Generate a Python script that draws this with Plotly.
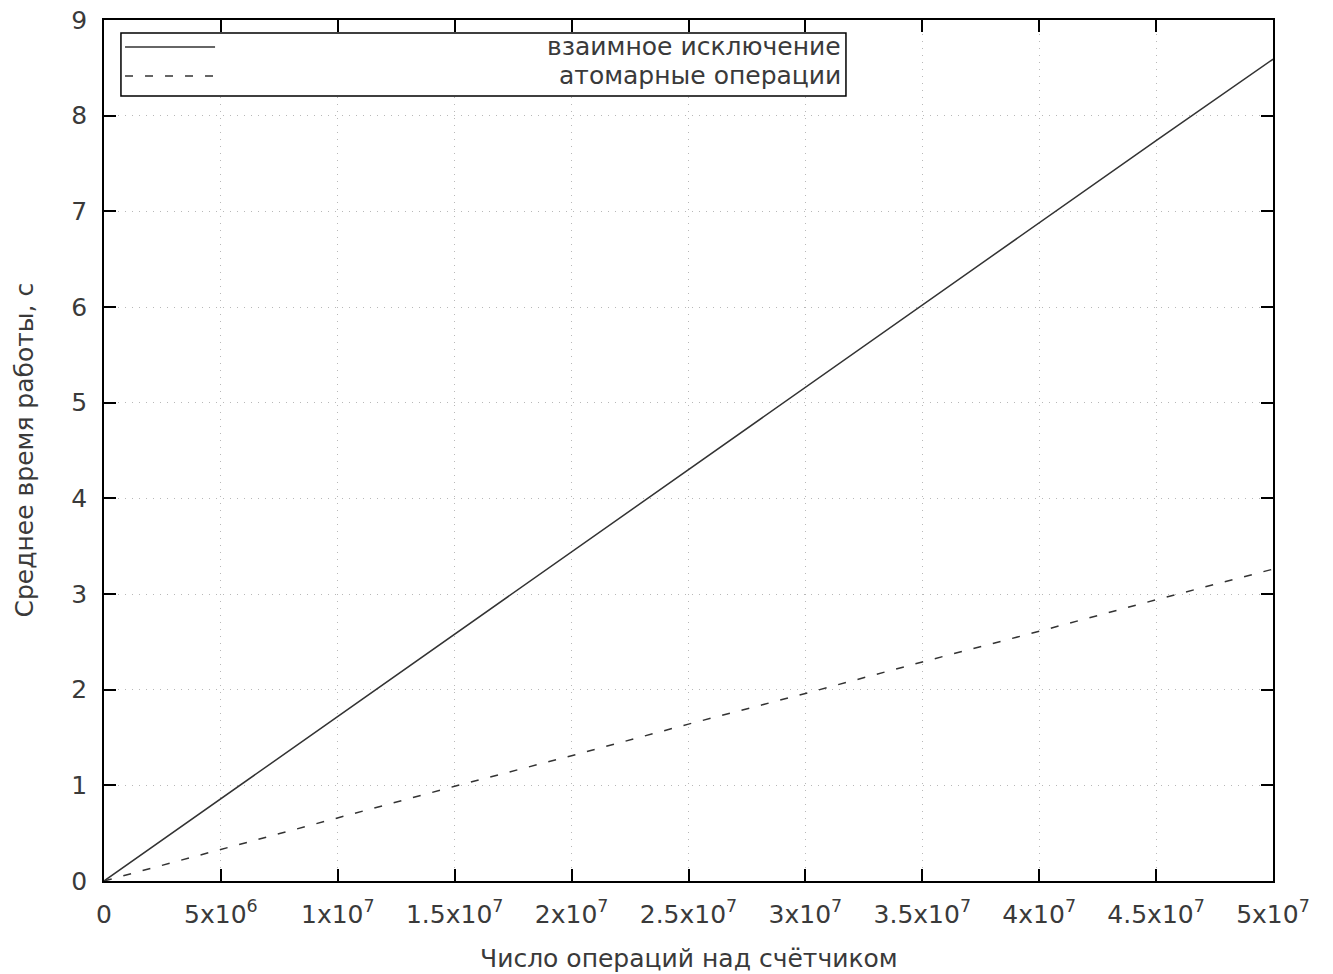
import plotly.graph_objects as go

# Data
x_ops = [0, 5e6, 1e7, 1.5e7, 2e7, 2.5e7, 3e7, 3.5e7, 4e7, 4.5e7, 5e7]
mutex_time = [0.0, 0.86, 1.72, 2.58, 3.44, 4.30, 5.16, 6.02, 6.88, 7.74, 8.59]
atomic_time = [0.0, 0.33, 0.66, 0.99, 1.31, 1.64, 1.96, 2.29, 2.61, 2.94, 3.26]

series_names = ["взаимное исключение", "атомарные операции"]

x_tickvals = [0, 5e6, 1e7, 1.5e7, 2e7, 2.5e7, 3e7, 3.5e7, 4e7, 4.5e7, 5e7]
x_ticktext = ["0", "5x10<sup>6</sup>", "1x10<sup>7</sup>", "1.5x10<sup>7</sup>",
              "2x10<sup>7</sup>", "2.5x10<sup>7</sup>", "3x10<sup>7</sup>",
              "3.5x10<sup>7</sup>", "4x10<sup>7</sup>", "4.5x10<sup>7</sup>",
              "5x10<sup>7</sup>"]
y_tickvals = [0, 1, 2, 3, 4, 5, 6, 7, 8, 9]

x_title = "Число операций над счётчиком"
y_title = "Среднее время работы, с"

FONT = "DejaVu Sans"
FS = 25
LINE_COLOR = "#333333"
TEXT_COLOR = "#3a3a3a"
DASH = "8px,12px"

fig = go.Figure()
fig.add_trace(go.Scatter(x=x_ops, y=mutex_time, mode="lines", name=series_names[0],
                         line=dict(color=LINE_COLOR, width=1.5), showlegend=False))
fig.add_trace(go.Scatter(x=x_ops, y=atomic_time, mode="lines", name=series_names[1],
                         line=dict(color=LINE_COLOR, width=1.5, dash=DASH), showlegend=False))

axis_common = dict(
    showline=True, linecolor="#000000", linewidth=1.5, mirror="ticks",
    ticks="inside", ticklen=12, tickwidth=1.5, tickcolor="#000000",
    showgrid=True, gridcolor="#b8b8b8", griddash="1px,6px", gridwidth=1,
    zeroline=False, automargin=False,
    tickfont=dict(family=FONT, size=FS, color=TEXT_COLOR),
)

fig.update_xaxes(range=[0, 5e7], tickvals=x_tickvals, ticktext=x_ticktext,
                 ticklabelstandoff=10, **axis_common)
fig.update_yaxes(range=[0, 9], tickvals=y_tickvals,
                 ticklabelstandoff=10, **axis_common)

# Axis titles
fig.add_annotation(xref="paper", yref="paper", x=0.5, y=0, yshift=-77, text=x_title,
                   showarrow=False, xanchor="center", yanchor="middle",
                   font=dict(family=FONT, size=FS, color=TEXT_COLOR))
fig.add_annotation(xref="paper", yref="paper", x=0, y=0.5, xshift=-80, text=y_title,
                   showarrow=False, xanchor="center", yanchor="middle", textangle=-90,
                   font=dict(family=FONT, size=FS, color=TEXT_COLOR))

# Legend box drawn manually (gnuplot style: sample on left, right-aligned text)
lx0, lx1, ly0, ly1 = 0.0145, 0.6347, 0.9117, 0.9849
fig.add_shape(type="rect", xref="paper", yref="paper", x0=lx0, x1=lx1, y0=ly0, y1=ly1,
              line=dict(color="#000000", width=1.5), fillcolor="white", layer="above")
rows = [(0.9687, None), (0.9350, DASH)]
for (yy, dash), name in zip(rows, series_names):
    fig.add_shape(type="line", xref="paper", yref="paper", x0=0.0180, x1=0.0950, y0=yy, y1=yy,
                  line=dict(color=LINE_COLOR, width=1.5, dash=dash), layer="above")
    fig.add_annotation(xref="paper", yref="paper", x=0.6322, y=yy, text=name, showarrow=False,
                       xanchor="right", yanchor="middle",
                       font=dict(family=FONT, size=FS, color=TEXT_COLOR))

fig.update_layout(
    width=1333, height=974,
    margin=dict(l=104, r=60, t=20, b=93),
    paper_bgcolor="white", plot_bgcolor="white",
    font=dict(family=FONT, color=TEXT_COLOR),
)

fig.write_html("out.html", config={"displayModeBar": False},
               post_script="document.body.style.margin='0';document.body.style.padding='0';")
